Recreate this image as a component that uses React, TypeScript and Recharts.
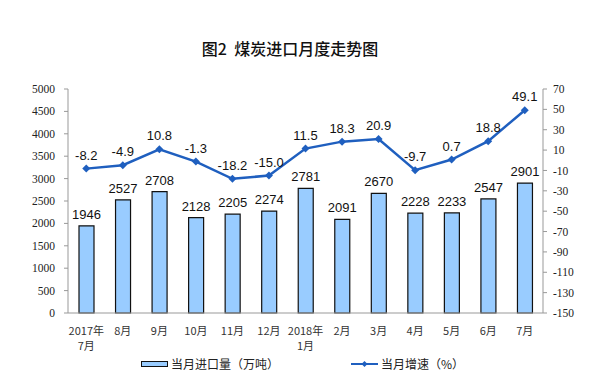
import { ComposedChart, Bar, Line, XAxis, YAxis, LabelList } from 'recharts';

const months = ['2017年|7月', '8月', '9月', '10月', '11月', '12月', '2018年|1月', '2月', '3月', '4月', '5月', '6月', '7月'];
const imports = [1946, 2527, 2708, 2128, 2205, 2274, 2781, 2091, 2670, 2228, 2233, 2547, 2901];
const growth = [-8.2, -4.9, 10.8, -1.3, -18.2, -15.0, 11.5, 18.3, 20.9, -9.7, 0.7, 18.8, 49.1];
const leftTicks = [0, 500, 1000, 1500, 2000, 2500, 3000, 3500, 4000, 4500, 5000];
const rightTicks = [-150, -130, -110, -90, -70, -50, -30, -10, 10, 30, 50, 70];

const data = months.map((m, i) => ({ month: m, imports: imports[i], growth: growth[i] }));

const BAR_FILL = '#99CCFF';
const LINE_COLOR = '#1F5FBF';
const AXIS_COLOR = '#999999';
const serif = '"Liberation Serif", "DejaVu Serif", serif';
const sans = '"Liberation Sans", Arial, sans-serif';
const cjk = '"Noto Sans CJK SC", sans-serif';

function MonthTick(props: any) {
  const { x, y, payload } = props;
  const lines = String(payload.value).split('|');
  return (
    <g transform={`translate(${x},${y})`}>
      {lines.map((t, i) => (
        <text key={i} x={0} y={14 + i * 15} textAnchor="middle" fontSize={11} fill="#333" fontFamily={cjk}>
          {t}
        </text>
      ))}
    </g>
  );
}

function Diamond(props: any) {
  const { cx, cy } = props;
  if (cx == null || cy == null) return null;
  const r = 4;
  return <polygon points={`${cx},${cy - r} ${cx + r},${cy} ${cx},${cy + r} ${cx - r},${cy}`} fill={LINE_COLOR} />;
}

export default function App() {
  return (
    <div style={{ position: 'absolute', left: 0, top: 0, width: 608, height: 386, background: '#fff' }}>
      <div
        style={{
          position: 'absolute',
          top: 37,
          left: 0,
          width: 580,
          textAlign: 'center',
          fontFamily: cjk,
          fontSize: 16,
          fontWeight: 500,
          color: '#111',
          lineHeight: '22px',
        }}
      >
        图2&nbsp;&nbsp;煤炭进口月度走势图
      </div>
      <ComposedChart
        width={608}
        height={386}
        data={data}
        margin={{ top: 89, right: 15, bottom: 33, left: 8 }}
      >
        <XAxis
          dataKey="month"
          height={40}
          interval={0}
          tick={<MonthTick />}
          stroke={AXIS_COLOR}
          tickLine={false}
        />
        <YAxis
          yAxisId="left"
          width={60}
          domain={[0, 5000]}
          ticks={leftTicks}
          interval={0}
          stroke={AXIS_COLOR}
          tickSize={4}
          tickMargin={9}
          tick={{ fontSize: 11.5, fill: '#222', fontFamily: serif }}
        />
        <YAxis
          yAxisId="right"
          orientation="right"
          width={50}
          domain={[-150, 70]}
          ticks={rightTicks}
          interval={0}
          stroke={AXIS_COLOR}
          tickSize={4}
          tickMargin={6}
          tick={{ fontSize: 11.5, fill: '#222', fontFamily: serif, textAnchor: 'start' }}
        />
        <Bar
          yAxisId="left"
          dataKey="imports"
          barSize={15}
          fill={BAR_FILL}
          stroke="#111"
          strokeWidth={1.2}
          isAnimationActive={false}
        >
          <LabelList dataKey="imports" position="top" offset={7} fontSize={13} fill="#111" fontFamily={sans} />
        </Bar>
        <Line
          yAxisId="right"
          dataKey="growth"
          stroke={LINE_COLOR}
          strokeWidth={2.5}
          dot={<Diamond />}
          activeDot={false}
          isAnimationActive={false}
        >
          <LabelList
            dataKey="growth"
            position="top"
            offset={9}
            fontSize={13}
            fill="#111"
            fontFamily={sans}
            formatter={(v: any) => Number(v).toFixed(1)}
          />
        </Line>
      </ComposedChart>
      <div
        style={{
          position: 'absolute',
          top: 355,
          left: 141,
          display: 'flex',
          alignItems: 'center',
          fontFamily: cjk,
          fontSize: 12,
          color: '#222',
        }}
      >
        <span style={{ display: 'inline-block', width: 25, height: 4, background: BAR_FILL, border: '1px solid #111', marginRight: 3 }} />
        当月进口量（万吨）
      </div>
      <div
        style={{
          position: 'absolute',
          top: 355,
          left: 351,
          display: 'flex',
          alignItems: 'center',
          fontFamily: cjk,
          fontSize: 12,
          color: '#222',
        }}
      >
        <svg width={28} height={10} style={{ marginRight: 2 }}>
          <line x1={0} y1={5} x2={27} y2={5} stroke={LINE_COLOR} strokeWidth={2} />
          <polygon points="13.5,2 16.5,5 13.5,8 10.5,5" fill={LINE_COLOR} />
        </svg>
        当月增速（%）
      </div>
    </div>
  );
}
